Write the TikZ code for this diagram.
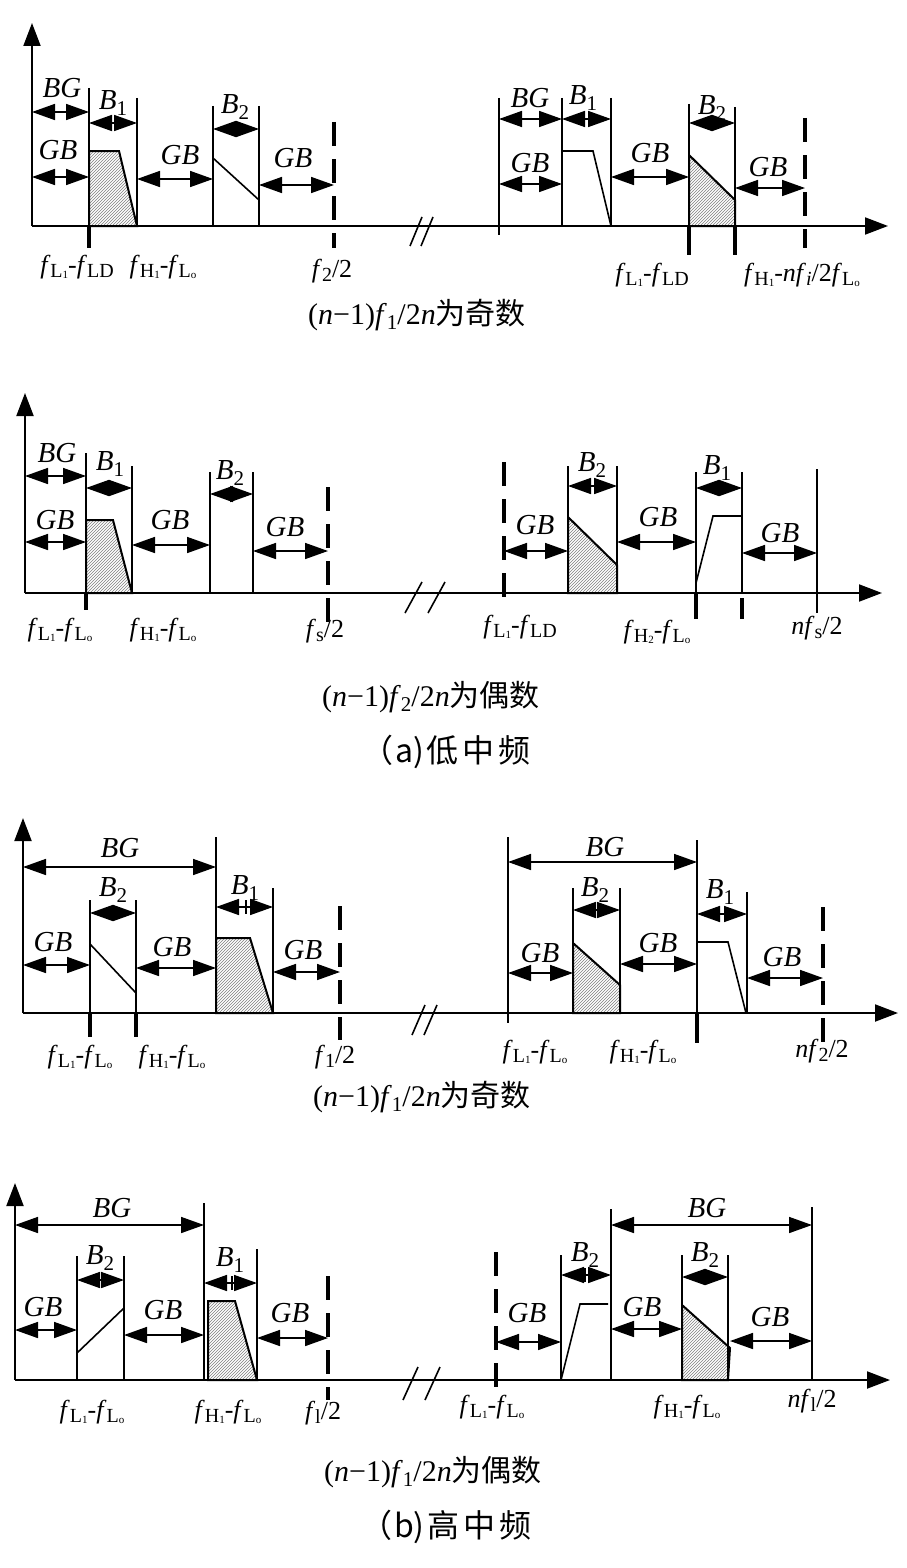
\documentclass[tikz,border=0pt]{standalone}
\usepackage{fontspec}
\setmainfont{Liberation Serif}
\newfontfamily\cjk{Noto Sans CJK SC}
\usetikzlibrary{arrows.meta,patterns}
\newcommand\ff{\textit{f}}
\newcommand\mysub[1]{\raisebox{-4pt}{\upshape\fontsize{20}{21}\selectfont #1}}
\newcommand\mysubsub[1]{\raisebox{-1pt}{\upshape\fontsize{11}{12}\selectfont #1}}
\newcommand\Bsub[1]{\textit{B}\raisebox{-6pt}{\upshape\fontsize{21}{22}\selectfont #1}}
\newcommand\capsub[1]{\raisebox{-5pt}{\upshape\fontsize{21}{22}\selectfont #1}}
\newcommand\LoneLD{\ff\mysub{L\mysubsub{1}}-\ff\mysub{LD}}
\newcommand\LoneLo{\ff\mysub{L\mysubsub{1}}-\ff\mysub{L\mysubsub{o}}}
\newcommand\HoneLo{\ff\mysub{H\mysubsub{1}}-\ff\mysub{L\mysubsub{o}}}
\tikzset{
  ax/.style={line width=2pt,-{Triangle[length=23pt,width=17pt]}},
  vl/.style={line width=1.6pt},
  dl/.style={line width=4pt,dash pattern=on 24pt off 13pt},
  tk/.style={line width=4pt},
  da/.style={line width=1.6pt,{Triangle[length=23pt,width=16pt]}-{Triangle[length=23pt,width=16pt]}},
  sh/.style={line width=2pt,pattern=north east lines,pattern color=gray},
  lab/.style={font=\fontsize{29}{31}\selectfont\itshape,inner sep=0pt},
  axl/.style={font=\fontsize{26}{28}\selectfont,inner sep=0pt},
  captxt/.style={font=\fontsize{30}{32}\selectfont,inner sep=0pt},
  subcap/.style={font=\fontsize{32}{34}\selectfont\cjk,inner sep=0pt}
}
\begin{document}
\begin{tikzpicture}[x=1pt,y=-1pt]
\useasboundingbox (0,0) rectangle (907,1568);
\fill[white] (0,0) rectangle (907,1568);
% ================= Panel 1 =================
\coordinate (o1) at (32,226);
\draw[ax] (o1) -- (888,226);
\draw[ax] (o1) -- (32,23);
\draw[sh] (89,226) -- (89,151) -- (119,151) -- (137,226) -- cycle;
\draw[vl] (89,88) -- (89,226);
\draw[tk] (89,226) -- (89,248);
\draw[vl] (137,98) -- (137,226);
\draw[vl] (213,106) -- (213,226);
\draw[vl] (259,106) -- (259,226);
\draw[dl] (334,122) -- (334,248);
\draw[vl] (213,158) -- (259,200);
\draw[da] (32,112) -- (89,112);
\draw[da] (89,123) -- (137,123);
\draw[da] (32,177) -- (89,177);
\draw[da] (137,179) -- (213,179);
\draw[da] (213,129) -- (259,129);
\draw[da] (259,185) -- (334,185);
\node[lab] (a1) at (62,88) {BG};
\node[lab] (a2) at (113,103) {\Bsub{1}};
\node[lab] (a3) at (58,150) {GB};
\node[lab] (a4) at (180,155) {GB};
\node[lab] (a5) at (235,107) {\Bsub{2}};
\node[lab] (a6) at (293,158) {GB};
\draw[vl] (410,246) -- (422,217);
\draw[vl] (421,246) -- (433,217);
\node[axl] (a7) at (77,267) {\LoneLD};
\node[axl] (a8) at (163,267) {\HoneLo};
\node[axl] (a9) at (332,271) {\ff\mysub{2}/2};
% right
\draw[vl] (499,98) -- (499,235);
\draw[vl] (562,98) -- (562,226);
\draw[vl] (611,98) -- (611,226);
\draw[sh] (689,226) -- (689,155) -- (735,200) -- (735,226) -- cycle;
\draw[vl] (689,104) -- (689,226);
\draw[tk] (689,226) -- (689,255);
\draw[vl] (735,107) -- (735,226);
\draw[tk] (735,226) -- (735,255);
\draw[dl] (805,118) -- (805,248);
\draw[vl] (562,151) -- (593,151) -- (611,226);
\draw[da] (499,119) -- (562,119);
\draw[da] (562,119) -- (611,119);
\draw[da] (499,184) -- (562,184);
\draw[da] (611,177) -- (689,177);
\draw[da] (689,123) -- (735,123);
\draw[da] (735,188) -- (805,188);
\node[lab] (b1) at (530,98) {BG};
\node[lab] (b2) at (583,98) {\Bsub{1}};
\node[lab] (b3) at (530,163) {GB};
\node[lab] (b4) at (650,153) {GB};
\node[lab] (b5) at (712,108) {\Bsub{2}};
\node[lab] (b6) at (768,167) {GB};
\node[axl] (b7) at (652,275) {\LoneLD};
\node[axl] (b8) at (802,275) {\ff\mysub{H\mysubsub{1}}-\textit{nf}\mysub{\textit{i}}/2\ff\mysub{L\mysubsub{o}}};
\node[captxt] (c1) at (417,315) {(\textit{n}−1)\textit{f}\capsub{1}/2\textit{n}{\cjk 为奇数}};
% ================= Panel 2 =================
\coordinate (o2) at (25,593);
\draw[ax] (o2) -- (882,593);
\draw[ax] (o2) -- (25,393);
\draw[sh] (86,593) -- (86,520) -- (113,520) -- (132,593) -- cycle;
\draw[vl] (86,453) -- (86,593);
\draw[tk] (86,593) -- (86,610);
\draw[vl] (132,466) -- (132,593);
\draw[vl] (210,472) -- (210,593);
\draw[vl] (253,472) -- (253,593);
\draw[dl] (328,487) -- (328,623);
\draw[da] (25,476) -- (86,476);
\draw[da] (86,488) -- (132,488);
\draw[da] (25,542) -- (86,542);
\draw[da] (132,545) -- (210,545);
\draw[da] (210,494) -- (253,494);
\draw[da] (253,551) -- (328,551);
\node[lab] (d1) at (57,453) {BG};
\node[lab] (d2) at (110,464) {\Bsub{1}};
\node[lab] (d3) at (55,520) {GB};
\node[lab] (d4) at (170,520) {GB};
\node[lab] (d5) at (230,473) {\Bsub{2}};
\node[lab] (d6) at (285,527) {GB};
\draw[vl] (405,613) -- (422,582);
\draw[vl] (428,613) -- (445,582);
\node[axl] (d7) at (60,630) {\LoneLo};
\node[axl] (d8) at (163,630) {\HoneLo};
\node[axl] (d9) at (325,631) {\ff\mysub{s}/2};
% right
\draw[dl] (504,462) -- (504,598);
\draw[sh] (568,593) -- (568,517) -- (617,565) -- (617,593) -- cycle;
\draw[vl] (568,466) -- (568,593);
\draw[vl] (617,466) -- (617,593);
\draw[vl] (696,472) -- (696,593);
\draw[tk] (696,593) -- (696,619);
\draw[vl] (742,472) -- (742,593);
\draw[tk] (742,598) -- (742,619);
\draw[vl] (817,469) -- (817,613);
\draw[vl] (696,583) -- (713,516) -- (742,516);
\draw[da] (504,551) -- (568,551);
\draw[da] (568,486) -- (617,486);
\draw[da] (617,542) -- (696,542);
\draw[da] (696,488) -- (742,488);
\draw[da] (742,553) -- (817,553);
\node[lab] (e1) at (535,525) {GB};
\node[lab] (e2) at (592,465) {\Bsub{2}};
\node[lab] (e3) at (658,517) {GB};
\node[lab] (e4) at (717,468) {\Bsub{1}};
\node[lab] (e5) at (780,533) {GB};
\node[axl] (e6) at (520,627) {\LoneLD};
\node[axl] (e7) at (657,632) {\ff\mysub{H\mysubsub{2}}-\ff\mysub{L\mysubsub{o}}};
\node[axl] (e8) at (817,628) {\textit{nf}\mysub{s}/2};
\node[captxt] (c2) at (431,697) {(\textit{n}−1)\textit{f}\capsub{2}/2\textit{n}{\cjk 为偶数}};
\node[subcap] (s1) at (446,752) {（\kern2pt a)\kern3pt 低\kern4pt 中\kern4pt 频};
% ================= Panel 3 =================
\coordinate (o3) at (23,1013);
\draw[ax] (o3) -- (898,1013);
\draw[ax] (o3) -- (23,818);
\draw[sh] (216,1013) -- (216,938) -- (250,938) -- (273,1013) -- cycle;
\draw[vl] (216,837) -- (216,1013);
\draw[vl] (90,900) -- (90,1013);
\draw[tk] (90,1013) -- (90,1037);
\draw[vl] (136,900) -- (136,1013);
\draw[tk] (136,1013) -- (136,1037);
\draw[vl] (273,888) -- (273,1013);
\draw[dl] (340,906) -- (340,1040);
\draw[vl] (90,944) -- (136,993);
\draw[da] (23,867) -- (216,867);
\draw[da] (90,913) -- (136,913);
\draw[da] (23,965) -- (90,965);
\draw[da] (136,968) -- (216,968);
\draw[da] (216,907) -- (273,907);
\draw[vl] (246,900) -- (246,914);
\draw[da] (273,972) -- (340,972);
\node[lab] (f1) at (120,848) {BG};
\node[lab] (f2) at (113,890) {\Bsub{2}};
\node[lab] (f3) at (53,942) {GB};
\node[lab] (f4) at (172,947) {GB};
\node[lab] (f5) at (245,888) {\Bsub{1}};
\node[lab] (f6) at (303,950) {GB};
\draw[vl] (412,1035) -- (425,1005);
\draw[vl] (424,1035) -- (437,1005);
\node[axl] (f7) at (80,1057) {\LoneLo};
\node[axl] (f8) at (172,1057) {\HoneLo};
\node[axl] (f9) at (335,1057) {\ff\mysub{1}/2};
% right
\draw[vl] (508,837) -- (508,1023);
\draw[vl] (697,840) -- (697,1013);
\draw[tk] (697,1013) -- (697,1043);
\draw[sh] (573,1013) -- (573,943) -- (620,985) -- (620,1013) -- cycle;
\draw[vl] (573,888) -- (573,1013);
\draw[vl] (620,888) -- (620,1013);
\draw[vl] (747,892) -- (747,1013);
\draw[dl] (823,907) -- (823,1043);
\draw[vl] (697,942) -- (728,942) -- (746,1013);
\draw[da] (508,862) -- (697,862);
\draw[da] (573,910) -- (620,910);
\draw[da] (508,973) -- (573,973);
\draw[da] (620,964) -- (697,964);
\draw[da] (697,914) -- (747,914);
\draw[da] (747,978) -- (823,978);
\node[lab] (g1) at (605,847) {BG};
\node[lab] (g2) at (595,890) {\Bsub{2}};
\node[lab] (g3) at (540,953) {GB};
\node[lab] (g4) at (658,943) {GB};
\node[lab] (g5) at (720,892) {\Bsub{1}};
\node[lab] (g6) at (782,957) {GB};
\node[axl] (g7) at (535,1052) {\LoneLo};
\node[axl] (g8) at (643,1052) {\HoneLo};
\node[axl] (g9) at (822,1051) {\textit{nf}\mysub{2}/2};
\node[captxt] (c3) at (422,1097) {(\textit{n}−1)\textit{f}\capsub{1}/2\textit{n}{\cjk 为奇数}};
% ================= Panel 4 =================
\coordinate (o4) at (15,1380);
\draw[ax] (o4) -- (890,1380);
\draw[ax] (o4) -- (15,1183);
\draw[sh] (208,1380) -- (208,1301) -- (235,1301) -- (257,1380) -- cycle;
\draw[vl] (204,1203) -- (204,1380);
\draw[vl] (77,1256) -- (77,1380);
\draw[vl] (124,1256) -- (124,1380);
\draw[vl] (257,1249) -- (257,1380);
\draw[dl] (328,1276) -- (328,1400);
\draw[vl] (77,1353) -- (124,1308);
\draw[da] (15,1225) -- (204,1225);
\draw[da] (77,1280) -- (124,1280);
\draw[da] (15,1330) -- (77,1330);
\draw[da] (124,1335) -- (204,1335);
\draw[da] (204,1283) -- (257,1283);
\draw[vl] (232,1276) -- (232,1290);
\draw[da] (257,1338) -- (328,1338);
\node[lab] (h1) at (112,1208) {BG};
\node[lab] (h2) at (100,1258) {\Bsub{2}};
\node[lab] (h3) at (43,1307) {GB};
\node[lab] (h4) at (163,1310) {GB};
\node[lab] (h5) at (230,1260) {\Bsub{1}};
\node[lab] (h6) at (290,1313) {GB};
\draw[vl] (403,1400) -- (418,1367);
\draw[vl] (425,1400) -- (440,1367);
\node[axl] (h7) at (92,1412) {\LoneLo};
\node[axl] (h8) at (228,1412) {\HoneLo};
\node[axl] (h9) at (323,1413) {\ff\mysub{l}/2};
% right
\draw[dl] (496,1252) -- (496,1388);
\draw[sh] (682,1380) -- (682,1305) -- (730,1348) -- (728,1380) -- cycle;
\draw[vl] (561,1255) -- (561,1380);
\draw[vl] (611,1209) -- (611,1380);
\draw[vl] (682,1255) -- (682,1380);
\draw[vl] (728,1255) -- (728,1380);
\draw[vl] (812,1207) -- (812,1380);
\draw[vl] (561,1380) -- (580,1304) -- (608,1304);
\draw[da] (611,1225) -- (812,1225);
\draw[da] (561,1275) -- (611,1275);
\draw[vl] (585,1268) -- (585,1282);
\draw[da] (496,1342) -- (561,1342);
\draw[da] (611,1329) -- (682,1329);
\draw[da] (682,1277) -- (728,1277);
\draw[da] (730,1341) -- (812,1341);
\node[lab] (i1) at (707,1208) {BG};
\node[lab] (i2) at (585,1255) {\Bsub{2}};
\node[lab] (i3) at (527,1313) {GB};
\node[lab] (i4) at (642,1307) {GB};
\node[lab] (i5) at (705,1255) {\Bsub{2}};
\node[lab] (i6) at (770,1317) {GB};
\node[axl] (i7) at (492,1407) {\LoneLo};
\node[axl] (i8) at (687,1407) {\HoneLo};
\node[axl] (i9) at (812,1401) {\textit{nf}\mysub{l}/2};
\node[captxt] (c4) at (433,1472) {(\textit{n}−1)\textit{f}\capsub{1}/2\textit{n}{\cjk 为偶数}};
\node[subcap] (s2) at (446,1527) {（\kern2pt b)\kern3pt 高\kern4pt 中\kern4pt 频};
\end{tikzpicture}
\end{document}
